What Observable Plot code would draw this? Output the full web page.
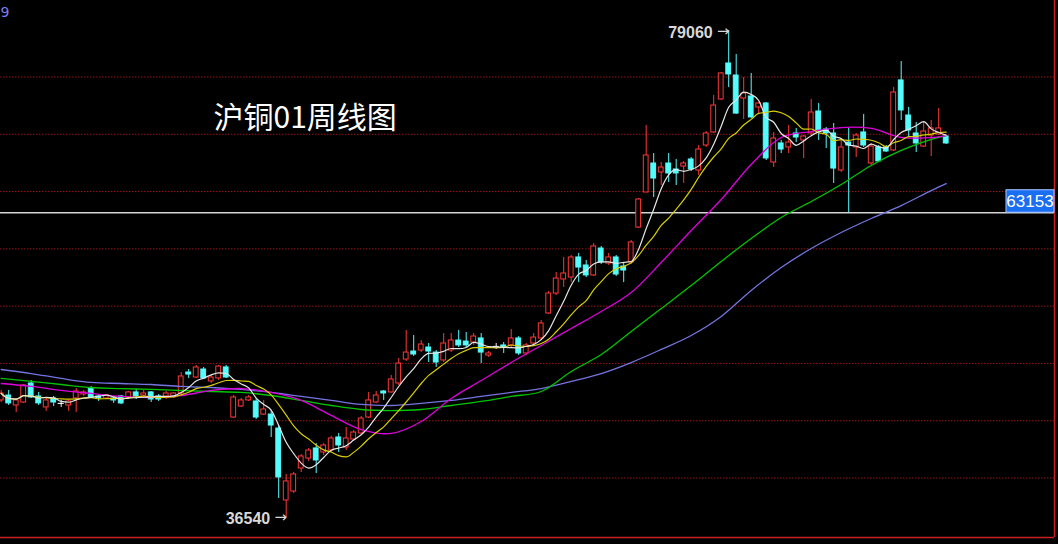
<!DOCTYPE html>
<html><head><meta charset="utf-8">
<script src="https://cdn.jsdelivr.net/npm/d3@7"></script>
<script src="https://cdn.jsdelivr.net/npm/@observablehq/plot@0.6"></script>
<style>html,body{margin:0;padding:0;background:#000;overflow:hidden}#chart{width:1058px;height:544px}</style>
</head><body><div id="chart"></div>
<script>
// ---- Data (weekly OHLC) ----
const opens = [
46770,47200,46330,46590,48250,47120,46160,46940,46510,46330,
46940,47290,47810,47120,46940,46940,47120,47030,47470,47200,
47470,47120,47120,47030,47380,49210,48770,49470,48430,48690,
49650,45280,46240,46770,46680,45540,45540,44320,38040,38820,
40830,41700,42580,42230,42400,43540,42660,43360,43890,45280,
46590,47550,47470,48250,50340,51040,51130,51390,50950,50260,
51130,52000,51910,51830,52180,50690,51480,51570,51570,52180,
50870,51740,52180,54360,56100,57330,57500,59250,58550,57680,
60030,58720,59250,58460,58810,61860,64920,67450,66670,67450,
66930,67190,67800,66840,69020,70160,73040,76180,75130,73120,
73300,72340,72690,67540,69200,68850,70070,69460,70070,71990,
70420,70070,66840,69280,68850,70160,67450,68850,68850,68590,
74700,71640,70070,68930,69890,69980,69810];
const highs = [
47640,47640,46940,48160,48510,47470,47030,47120,46770,46850,
47810,47640,47990,47290,47290,47030,47200,47550,47730,47640,
47550,47290,47550,47470,49210,49470,49820,49650,48950,49820,
49820,47200,46940,47200,46940,46770,45890,44580,40310,40480,
42050,42580,43010,43010,43620,43890,44410,44150,45370,47470,
47550,47640,48950,50430,52880,52440,52000,51740,51130,52610,
52610,52880,52700,52610,52610,51040,51740,51830,52960,52350,
51740,52610,53750,56280,57940,59250,59420,59600,58980,60470,
60210,59600,59420,58720,60730,64400,70770,68320,67540,68320,
67800,67630,67970,69020,70240,73390,75390,79060,76960,74960,
75310,72770,72770,70160,69460,70770,70510,69890,73040,72690,
70590,70940,69460,70510,70070,71730,69200,69020,69020,74080,
76350,72340,71030,71030,71200,72250,69890];
const lows = [
46590,46330,45720,46510,46940,46330,45810,46240,46160,45810,
45720,47120,46940,46680,46850,46510,46420,46940,46850,47030,
46590,46680,46850,46940,47200,48690,48690,48600,48250,48510,
48690,45190,46160,46680,45110,45460,43540,38210,36540,38650,
40480,41440,40390,41970,42230,42230,42400,43190,43800,45190,
46510,46770,47380,48080,50170,50610,50950,50080,49650,50080,
50950,51390,51390,51570,49990,50520,51220,50870,51390,50690,
50690,51570,52000,54270,55930,56630,57060,57060,57500,57590,
58640,58550,57590,57060,58640,61780,64920,64480,65530,65790,
65530,65710,66750,66400,68850,70070,72950,74080,71730,71290,
71380,71810,67710,67100,68320,68320,69280,67890,69890,69460,
68760,65710,66670,63170,67970,68850,67280,67540,68410,68500,
71200,69720,68410,68850,68060,69890,69110];
const closes = [
47380,46510,46770,48080,47030,46510,46770,46590,46510,46680,
47550,47470,47030,46940,47200,46770,46510,47470,47120,47380,
46850,46850,47380,47380,48860,49030,49650,48690,48770,49730,
48770,47030,46770,47030,45280,45980,44580,40050,39700,40310,
41880,42400,41530,42840,43450,42840,43450,43970,45190,46770,
47200,47380,48600,49990,50950,50780,51650,51040,50080,51740,
52000,51570,51570,52350,50950,50870,51480,51390,52180,50870,
51570,52260,53490,56100,57410,57850,59250,58370,57680,60210,
58810,59250,57760,58110,60560,64310,68150,66140,67100,66580,
66580,67450,66930,68670,70070,72510,75310,75220,71810,73560,
71470,72690,67890,69630,68670,69280,69720,69810,71900,70330,
70070,67010,68850,69020,69890,69020,68930,67630,68500,73650,
72080,70330,69200,70240,70510,70510,69200];

const maIdx = [0,4,8,12,16,20,24,28,32,36,40,44,48,52,56,60,64,68,72,76,80,84,88,92,96,100,104,108,112,116,120,124,126];
const ma20 = [48250,47990,47640,47380,47120,47030,47200,47640,47810,47470,46770,45460,44230,43890,44930,46940,48510,50080,51570,53050,54530,56190,58810,61600,64310,67360,69720,70240,70590,70510,69720,69720,69890];
const ma40 = [48690,48430,48160,47900,47810,47730,47640,47550,47470,47200,46770,46330,45980,45890,45980,46330,46680,47120,47550,49300,50780,52790,54790,56800,58900,60900,62740,64130,65620,67280,68590,69550,69890];
const ma60 = [49470,49120,48690,48340,48250,48160,47990,47900,47730,47470,47120,46770,46420,46330,46510,46770,47120,47470,47810,48430,49120,50080,51220,52440,54100,56370,58370,60030,61430,62650,63780,65090,65700];

const gridPrices = [40000,45000,50000,55000,60000,65000,70000,75000];
const refPrice = 63153;
const title = "沪铜01周线图";
const cornerLabel = "9";

// ---- Build ----
const bars = opens.map((o,i)=>({i, open:o, high:highs[i], low:lows[i], close:closes[i]}));
const maRows = maIdx.map((i,k)=>({i, ma20:ma20[k], ma40:ma40[k], ma60:ma60[k]}));

const W = 1058, H = 544, mR = 4, mB = 7;
const barStep = 7.5, firstBarX = 0.7;
const xDomain = [(0-firstBarX)/barStep, (W-mR-firstBarX)/barStep];
const yDomain = [34808, 81677];

const UP = "#ff3838", DOWN = "#54fcfc", DOJI = "#f0f0f0";
const colorOf = d => d.close > d.open ? UP : d.close < d.open ? DOWN : DOJI;
const hw = 0.32;

const hiBar = bars.reduce((a,b)=> b.high > a.high ? b : a);
const loBar = bars.reduce((a,b)=> b.low < a.low ? b : a);
const LBL = {fill: "#d8d8d8", fontSize: 16, fontWeight: "bold", fontFamily: "Liberation Sans, DejaVu Sans, sans-serif", textAnchor: "end"};
const ARR = {fill: "#d8d8d8", fontSize: 15, fontFamily: "DejaVu Sans, sans-serif", textAnchor: "end", text: () => "→"};

const chart = Plot.plot({
  width: W, height: H,
  marginLeft: 0, marginTop: 0, marginRight: mR, marginBottom: mB,
  style: {background: "#000", overflow: "visible"},
  x: {domain: xDomain, axis: null},
  y: {domain: yDomain, axis: null},
  marks: [
    Plot.ruleY(gridPrices, {stroke: "#9a1414", strokeDasharray: "1.5,1.5", strokeWidth: 1}),
    Plot.ruleY([refPrice], {stroke: "#d4d4d4", strokeWidth: 1.6}),
    Plot.ruleY([yDomain[0]], {stroke: "#c82020", strokeWidth: 1.5}),
    Plot.ruleX([xDomain[1]], {stroke: "#c82020", strokeWidth: 1.5}),
    // candles
    Plot.ruleX(bars, {x: "i", y1: "low", y2: "high", stroke: colorOf, strokeWidth: 1}),
    Plot.rect(bars.filter(d => d.close !== d.open), {
      x1: d => d.i - hw, x2: d => d.i + hw, y1: "open", y2: "close",
      fill: d => d.close > d.open ? "#000" : DOWN, stroke: colorOf, strokeWidth: 1
    }),
    Plot.ruleY(bars.filter(d => d.close === d.open), {y: "close", x1: d => d.i - 0.4, x2: d => d.i + 0.4, stroke: DOJI, strokeWidth: 1.2}),
    // moving averages
    Plot.line(maRows, {x: "i", y: "ma60", stroke: "#7474e0", strokeWidth: 1.3, curve: "catmull-rom"}),
    Plot.line(maRows, {x: "i", y: "ma40", stroke: "#00c400", strokeWidth: 1.3, curve: "catmull-rom"}),
    Plot.line(maRows, {x: "i", y: "ma20", stroke: "#dc00dc", strokeWidth: 1.3, curve: "catmull-rom"}),
    Plot.line(bars, Plot.windowY({k: 10, anchor: "end", reduce: "mean"}, {x: "i", y: "close", stroke: "#d8cf00", strokeWidth: 1.2, curve: "monotone-x"})),
    Plot.line(bars, Plot.windowY({k: 5, anchor: "end", reduce: "mean"}, {x: "i", y: "close", stroke: "#e6e6e6", strokeWidth: 1.2, curve: "monotone-x"})),
    // labels
    Plot.text([hiBar], {x: "i", y: "high", text: d => String(d.high), dx: -16, dy: 2, ...LBL}),
    Plot.text([hiBar], {x: "i", y: "high", dx: 1, dy: 1, ...ARR}),
    Plot.text([loBar], {x: "i", y: "low", text: d => String(d.low), dx: -16, dy: 1, ...LBL}),
    Plot.text([loBar], {x: "i", y: "low", dx: 1, dy: 0, ...ARR}),
    Plot.text([title], {frameAnchor: "top-left", text: d => d, dx: 213, dy: 127, lineAnchor: "bottom", textAnchor: "start", fill: "#ffffff", fontSize: 30, fontFamily: "Noto Sans CJK SC, sans-serif"}),
    Plot.text([cornerLabel], {frameAnchor: "top-left", text: d => d, dx: 0, dy: 16, lineAnchor: "bottom", textAnchor: "start", fill: "#7c7cf0", fontSize: 14, fontFamily: "DejaVu Sans, sans-serif"})
  ]
});

document.getElementById("chart").appendChild(chart);

// price tag for the reference line
const ys = chart.scale("y");
const yRef = ys.apply(refPrice);
const boxW = 48, boxH = 22.5, boxX = W - mR - boxW;
const g = d3.select(chart).append("g");
g.append("rect").attr("x", boxX).attr("y", yRef - boxH).attr("width", boxW).attr("height", boxH)
  .attr("fill", "#1a6ef2").attr("stroke", "#a8c8ff").attr("stroke-width", 1);
g.append("text").attr("x", boxX + boxW/2).attr("y", yRef - 5).attr("text-anchor", "middle")
  .attr("fill", "#ffffff").attr("font-size", 17).attr("font-family", "Liberation Sans, DejaVu Sans, sans-serif")
  .text(String(refPrice));
</script></body></html>
